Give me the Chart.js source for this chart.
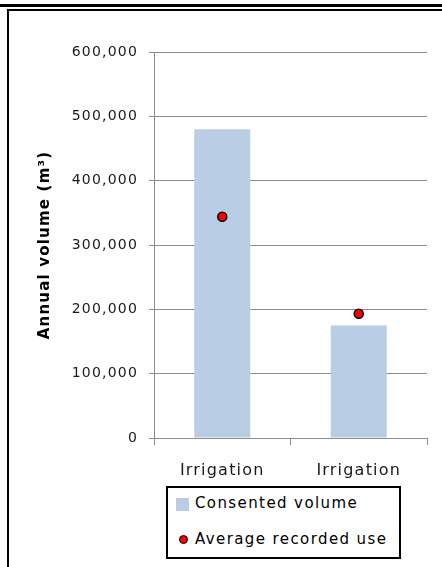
<!DOCTYPE html>
<html>
<head>
<meta charset="utf-8">
<script src="https://cdn.jsdelivr.net/npm/chart.js@4.4.1/dist/chart.umd.min.js"></script>
<style>
  html, body { margin: 0; padding: 0; background: #fff; }
  body { width: 442px; height: 567px; position: relative; overflow: hidden; }
  .rule { position: absolute; left: 0; top: 4px; width: 442px; height: 3px; background: #000; }
  .frame { position: absolute; left: 7px; top: 9px; width: 500px; height: 600px; border: 2px solid #000; box-sizing: border-box; }
  #wrap { position: absolute; left: 0; top: 0; width: 442px; height: 567px; }
  #legend {
    position: absolute; left: 166px; top: 486px; width: 235px; height: 73px;
    border: 2px solid #000; box-sizing: border-box; background: #fff;
    font-family: 'DejaVu Sans', sans-serif; font-size: 15px; letter-spacing: 1.4px; color: #000;
  }
  #legend .item { position: absolute; left: 27px; white-space: nowrap; line-height: 18px; }
  #legend .mark { position: absolute; box-sizing: border-box; }
</style>
</head>
<body>
<div class="rule"></div>
<div class="frame"></div>
<div id="wrap"><canvas id="chart"></canvas></div>
<div id="legend"></div>
<script>
// ── Data ──────────────────────────────────────────────────
const categories = ['Irrigation', 'Irrigation'];
const consentedVolume = [480000, 175000];
const averageRecordedUse = [344000, 193000];
const yTicks = [0, 100000, 200000, 300000, 400000, 500000, 600000];

const FONT = "'DejaVu Sans', sans-serif";
const BAR_COLOR = '#b9cde5';
const GRID_COLOR = '#8c8c8c';

// canvas letter spacing (the source renders its text widely spaced)
const spacing = {
  id: 'spacing',
  beforeUpdate(chart) { chart.ctx.letterSpacing = '1.2px'; },
  beforeDraw(chart) { chart.ctx.letterSpacing = '1.2px'; },
};

// boxed legend underneath the axis, one item per row
const htmlLegend = {
  id: 'htmlLegend',
  afterUpdate(chart) {
    const box = document.getElementById('legend');
    box.innerHTML = '';
    chart.data.datasets.forEach((ds, i) => {
      const top = 6 + i * 36;
      const mark = document.createElement('span');
      mark.className = 'mark';
      if (ds.type === 'line') {
        Object.assign(mark.style, {
          left: '11px', top: (top + 5) + 'px', width: '9px', height: '9px',
          borderRadius: '50%', background: ds.pointBackgroundColor,
          border: '1.5px solid ' + ds.pointBorderColor,
        });
      } else {
        Object.assign(mark.style, {
          left: '8px', top: (top + 4) + 'px', width: '13px', height: '13px',
          background: ds.backgroundColor,
        });
      }
      const label = document.createElement('span');
      label.className = 'item';
      label.style.top = top + 'px';
      label.textContent = ds.label;
      box.appendChild(mark);
      box.appendChild(label);
    });
  },
};

new Chart(document.getElementById('chart'), {
  data: {
    labels: categories,
    datasets: [
      {
        type: 'bar',
        label: 'Consented volume',
        data: consentedVolume,
        backgroundColor: BAR_COLOR,
        barPercentage: 0.41,
        categoryPercentage: 1,
        order: 1,
      },
      {
        type: 'line',
        label: 'Average recorded use',
        data: averageRecordedUse,
        showLine: false,
        pointRadius: 4.5,
        pointBackgroundColor: '#ff0000',
        pointBorderColor: '#000000',
        pointBorderWidth: 1.5,
        order: 0,
      },
    ],
  },
  options: {
    responsive: true,
    maintainAspectRatio: false,
    animation: false,
    layout: { padding: { top: 52, right: 15, bottom: 84, left: 0 } },
    plugins: {
      legend: { display: false },
      tooltip: { enabled: false },
    },
    scales: {
      x: {
        type: 'category',
        offset: true,
        grid: { offset: true, drawOnChartArea: false, drawTicks: true, tickLength: 7, color: GRID_COLOR },
        border: { color: GRID_COLOR, width: 1 },
        ticks: { color: '#1a1a1a', font: { family: FONT, size: 16 }, padding: 16, maxRotation: 0 },
        afterFit(scale) { scale.height = 45; },
      },
      y: {
        min: 0,
        max: 600000,
        afterBuildTicks(scale) { scale.ticks = yTicks.map(v => ({ value: v })); },
        grid: { color: GRID_COLOR, tickLength: 5 },
        border: { color: GRID_COLOR, width: 1 },
        ticks: {
          color: '#1a1a1a',
          font: { family: FONT, size: 14 },
          padding: 11,
          callback: v => v.toLocaleString('en-US'),
        },
        title: {
          display: true,
          text: 'Annual volume (m³)',
          color: '#000',
          font: { family: FONT, size: 15, weight: 'bold' },
          padding: { top: 36, bottom: 0 },
        },
        afterFit(scale) { scale.width = 154; },
      },
    },
  },
  plugins: [spacing, htmlLegend],
});
</script>
</body>
</html>
